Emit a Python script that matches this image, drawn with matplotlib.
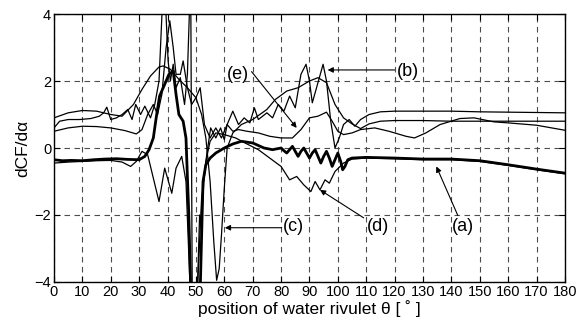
import numpy as np
import matplotlib
matplotlib.use("Agg")
import matplotlib.pyplot as plt

plt.rcParams['font.family'] = ['Liberation Sans', 'DejaVu Sans']

# curve (a) - thick line
theta_a = [0, 3, 6, 10, 14, 18, 22, 26, 30, 32, 33.5, 35, 36, 37.2, 39, 40.5, 42, 43, 44, 45.5, 46.5,
           47.5, 48.2, 51.5, 52.5, 53.5, 55, 57, 60, 63, 66, 70, 74, 77, 80, 81, 82, 83, 84, 85, 86,
           87, 88, 89, 90, 91, 92, 93, 94, 95, 96, 97, 98, 99, 100, 101, 101.7, 102.5, 103.5, 105,
           110, 120, 130, 140, 150, 160, 170, 180]
dcf_a = [-0.35, -0.38, -0.37, -0.38, -0.35, -0.33, -0.32, -0.34, -0.35, -0.25, -0.05, 0.3, 0.9, 1.55,
         1.9, 2.2, 2.3, 1.6, 1.0, 0.8, 0.3, -2.0, -4.3, -4.3, -1.0, -0.5, -0.3, -0.15, 0.0, 0.12,
         0.2, 0.15, 0.0, -0.05, 0.0, -0.08, -0.15, -0.05, 0.05, -0.1, -0.25, -0.1, 0.0, -0.15,
         -0.3, -0.15, -0.05, -0.25, -0.45, -0.25, -0.1, -0.3, -0.55, -0.35, -0.15, -0.4, -0.65,
         -0.55, -0.35, -0.3, -0.28, -0.3, -0.33, -0.33, -0.38, -0.5, -0.63, -0.75]

# curve (b)
theta_b = [0, 2, 5, 9, 13, 16, 17.5, 18.6, 20, 22, 24, 26, 27.5, 28.8, 30.5, 32, 34, 35.5, 37, 38.2,
           39.3, 40.2, 41, 42, 43, 44.5, 46, 47, 47.8, 48.2, 48.7, 50.5, 51.3, 52, 52.8, 53.8,
           55.2, 57, 58.7, 60, 61, 63, 65, 67, 69, 70.6, 72, 75, 77, 79, 81, 83, 85, 87, 88.8,
           90, 91, 92.5, 94.8, 96, 97.5, 99, 100.5, 102, 104, 106, 108, 111, 115, 120, 130,
           140, 150, 160, 170, 180]
dcf_b = [0.6, 0.8, 0.85, 0.85, 0.88, 0.95, 1.05, 1.22, 0.85, 0.9, 1.0, 1.15, 0.85, 1.3, 1.0, 1.25,
         0.9, 1.3, 2.0, 4.3, 4.3, 2.6, 2.0, 2.5, 1.8, 2.1, 1.3, 2.2, 4.3, 4.3, -4.3, -4.3, -2.0,
         -2.2, -1.0, -0.2, 0.6, 0.3, 0.6, 0.25, 0.7, 1.1, 0.7, 0.9, 0.75, 1.2, 0.85, 1.05, 0.9,
         1.3, 1.1, 1.55, 1.2, 2.2, 2.5, 2.0, 1.35, 1.8, 2.5, 2.0, 0.8, 0.0, 0.3, 0.7, 0.85, 0.65,
         0.85, 1.0, 1.08, 1.1, 1.1, 1.1, 1.08, 1.07, 1.06, 1.05]

# curve (c)
theta_c = [0, 5, 10, 15, 20, 24, 28, 31, 34, 37, 38.5, 41, 44, 47, 50, 52, 53.5, 55, 56.3, 57.3,
           58.2, 59, 60, 61, 63, 66, 70, 75, 78, 82, 86, 90, 93, 96, 99, 102, 105, 108, 111, 115,
           120, 130, 140, 150, 160, 170, 180]
dcf_c = [0.9, 1.05, 1.12, 1.1, 1.0, 0.95, 1.3, 1.75, 2.15, 2.42, 2.45, 2.35, 2.05, 1.8, 1.5, 1.0,
         0.3, -1.0, -2.8, -3.95, -3.6, -2.6, -1.2, 0.0, 0.45, 0.7, 0.85, 1.15, 1.45, 1.7, 1.8,
         2.0, 2.1, 1.95, 1.3, 0.9, 0.72, 0.58, 0.72, 0.8, 0.82, 0.82, 0.8, 0.8, 0.8, 0.8, 0.8]

# curve (d)
theta_d = [0, 5, 10, 15, 20, 24, 27, 29, 31, 33, 35, 37, 39, 41.5, 43, 45, 46.5, 48, 50.5, 52,
           53.5, 55, 57, 60, 64, 68, 72, 76, 80, 83, 85.5, 88, 90.5, 92, 93.7, 95.5, 97, 99, 102,
           105, 110, 120, 130, 140, 150, 160, 170, 180]
dcf_d = [-0.45, -0.42, -0.4, -0.38, -0.37, -0.42, -0.55, -0.4, -0.1, -0.2, -0.9, -1.6, -0.6, -1.35,
         -0.6, -0.25, -1.0, -4.3, -4.3, -1.5, -0.4, 0.2, 0.45, 0.4, 0.3, 0.12, -0.05, -0.3, -0.55,
         -0.95, -0.85, -1.1, -1.3, -1.0, -1.25, -0.95, -1.05, -0.7, -0.45, -0.33, -0.3, -0.32,
         -0.35, -0.35, -0.4, -0.52, -0.65, -0.77]

# curve (e)
theta_e = [0, 5, 10, 15, 20, 25, 29, 31, 33, 35, 36.5, 38, 39.5, 40.8, 42, 43, 44.5, 45.5, 47, 48.5,
           50, 51.5, 53, 55, 57, 59, 61, 63, 65, 68, 72, 76, 80, 84, 87, 90, 93, 96, 98, 100, 102,
           105, 108, 113, 118, 124, 127, 131, 136, 143, 148, 155, 160, 170, 180]
dcf_e = [0.5, 0.6, 0.65, 0.64, 0.6, 0.52, 0.42, 0.55, 1.0, 1.3, 1.0, 1.6, 3.0, 3.8, 3.0, 2.2, 2.2,
         2.6, 1.8, 1.3, 1.5, 1.8, 0.7, 0.3, 0.6, 0.3, 0.7, 0.5, 0.55, 0.5, 0.45, 0.35, 0.3, 0.3,
         0.55, 0.9, 0.95, 1.07, 0.8, 0.5, 0.4, 0.45, 0.55, 0.6, 0.5, 0.35, 0.3, 0.45, 0.7, 0.88,
         0.9, 0.78, 0.75, 0.68, 0.53]

x_ticks = list(range(0, 181, 10))
y_ticks = [-4, -2, 0, 2, 4]

fig = plt.figure(figsize=(5.83, 3.26), dpi=100)
ax = fig.add_axes([0.0926, 0.135, 0.8764, 0.822])

ax.plot(theta_b, dcf_b, color='k', lw=0.9)
ax.plot(theta_c, dcf_c, color='k', lw=0.9)
ax.plot(theta_d, dcf_d, color='k', lw=0.9)
ax.plot(theta_e, dcf_e, color='k', lw=0.9)
ax.plot(theta_a, dcf_a, color='k', lw=2.0)

ax.set_xlim(0, 180)
ax.set_ylim(-4, 4)
ax.set_xticks(x_ticks)
ax.set_yticks(y_ticks)
ax.tick_params(direction='in', length=4, labelsize=10.5, top=True, right=True, pad=2)
ax.grid(True, color='0.3', lw=0.8, linestyle=(0, (5, 4)))
for s in ax.spines.values():
    s.set_linewidth(1.0)

ax.set_xlabel('position of water rivulet θ [ ˚ ]', fontsize=12.5, labelpad=1)
ax.set_ylabel('dCF/dα', fontsize=12.5, labelpad=3)

arrow = dict(arrowstyle='-|>', color='k', lw=0.8, mutation_scale=8, shrinkA=0, shrinkB=0)
ax.annotate('(a)', xy=(134.7, -0.55), xytext=(144, -2.35), fontsize=13, ha='center', va='center',
            arrowprops=arrow)
ax.annotate('(d)', xy=(93.7, -1.25), xytext=(114, -2.35), fontsize=13, ha='center', va='center',
            arrowprops=arrow)
ax.annotate('', xy=(60.2, -2.38), xytext=(80.2, -2.38), arrowprops=arrow)
ax.text(84.5, -2.35, '(c)', fontsize=13, ha='center', va='center')
ax.annotate('', xy=(96.4, 2.33), xytext=(120, 2.33), arrowprops=arrow)
ax.text(124.8, 2.28, '(b)', fontsize=13, ha='center', va='center')
ax.annotate('', xy=(85.5, 0.6), xytext=(69.6, 2.28), arrowprops=arrow)
ax.text(64.7, 2.18, '(e)', fontsize=13, ha='center', va='center')

fig.savefig('out.png', dpi=100)
